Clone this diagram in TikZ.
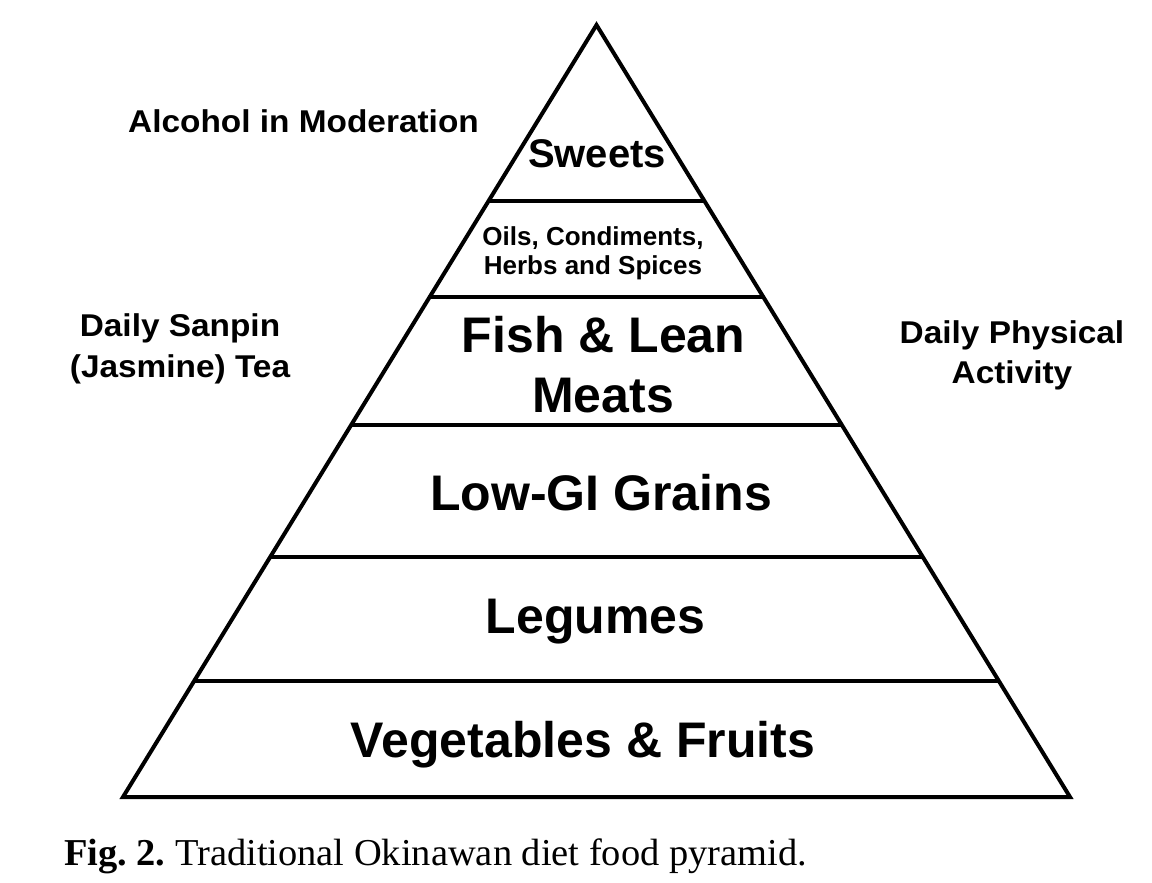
\documentclass[tikz,border=0pt]{standalone}
\usepackage{fontspec}
\setmainfont{Liberation Sans}
\newfontfamily\capfont{Liberation Serif}
\usetikzlibrary{calc}
\newcommand\pyrsize[1]{\fontsize{#1}{#1}\selectfont}
\frenchspacing
\begin{document}
\begin{tikzpicture}[x=1pt,y=-1pt,line width=4pt,line join=miter,
  edge/.style={draw=black,line width=4pt},
  lbl/.style={inner sep=0pt,anchor=base,text=black},
  big/.style={lbl,font=\pyrsize{50}\bfseries},
  side/.style={lbl,font=\pyrsize{31.5}\bfseries}]
\useasboundingbox (0,0) rectangle (1152,883);
\fill[white] (0,0) rectangle (1152,883);
% pyramid outline
\coordinate (apex) at (596.5,25);
\coordinate (bl) at (123,797);
\coordinate (br) at (1070,797);
\draw[edge] (apex) -- (bl) -- (br) -- cycle;
% tier boundaries
\foreach \t [count=\i] in {0.22798,0.35233,0.51813,0.68912,0.84974}{
  \coordinate (l\i) at ($(apex)!\t!(bl)$);
  \coordinate (r\i) at ($(apex)!\t!(br)$);
  \draw[edge] (l\i) -- (r\i);
}
% tier labels
\node[lbl,font=\pyrsize{40}\bfseries] (sweets) at (597,167) {Sweets};
\node[lbl,font=\pyrsize{26}\bfseries] (oils1) at (593,245) {Oils, Condiments,};
\node[lbl,font=\pyrsize{26}\bfseries] (oils2) at (593,274) {Herbs and Spices};
\node[big] (fish1) at (603.5,352) {Fish \& Lean};
\node[big] (fish2) at (603,412) {Meats};
\node[big] (grains) at (601,510) {Low-GI Grains};
\node[big] (legumes) at (595.5,633) {Legumes};
\node[big] (veg) at (583,757) {Vegetables \& Fruits};
% side labels
\node[side] (alcohol) at (303.5,132) {\scalebox{1.06}[1]{Alcohol in Moderation}};
\node[side] (tea1) at (180,336) {\scalebox{1.06}[1]{Daily Sanpin}};
\node[side] (tea2) at (180,377) {\scalebox{1.06}[1]{(Jasmine) Tea}};
\node[side] (act1) at (1012,343) {\scalebox{1.06}[1]{Daily Physical}};
\node[side] (act2) at (1012,383) {\scalebox{1.06}[1]{Activity}};
% caption
\node[inner sep=0pt,anchor=base west,font=\capfont\pyrsize{38}] (caption) at (62,865)
  {\scalebox{1.012}[1]{\textbf{Fig. 2.} Traditional Okinawan diet food pyramid.}};
\end{tikzpicture}
\end{document}
